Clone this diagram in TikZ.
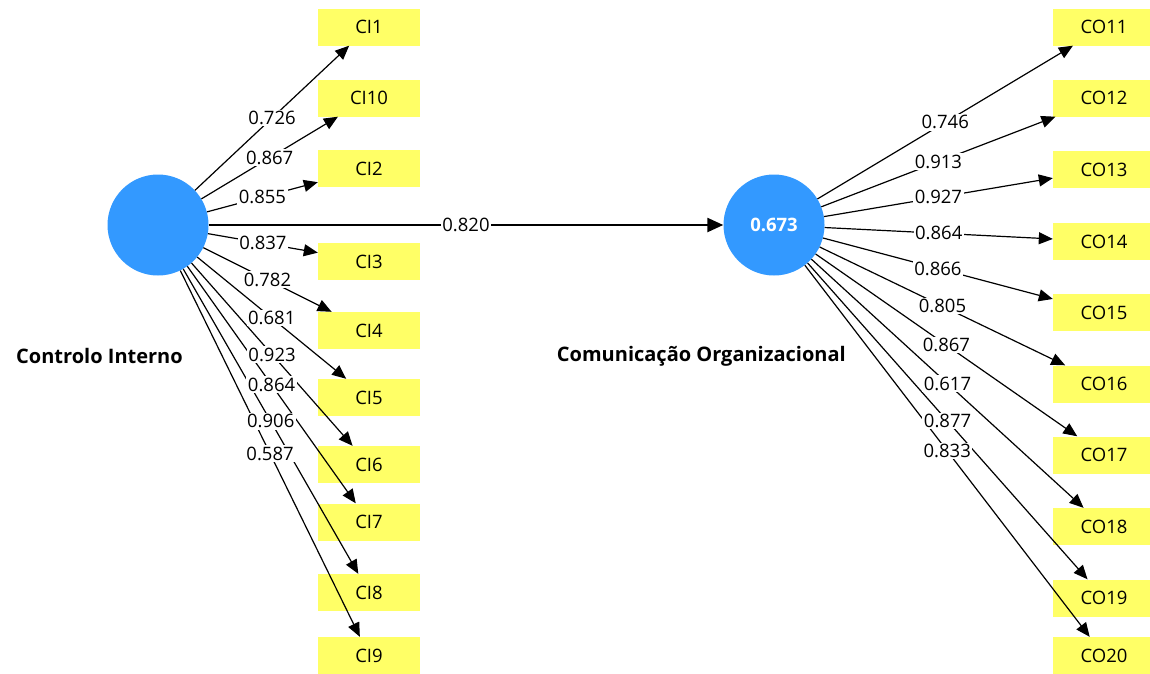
\documentclass[tikz,border=0pt]{standalone}
\usepackage{fontspec}
\setmainfont{Open Sans}
\usetikzlibrary{arrows.meta}
\definecolor{lvblue}{RGB}{51,153,255}
\definecolor{mvyellow}{RGB}{255,255,102}
\begin{document}
\begin{tikzpicture}[x=1pt,y=-1pt,
  lv/.style={circle,fill=lvblue,inner sep=0pt,minimum size=101pt,font=\fontsize{18.5}{22}\selectfont\bfseries,text=white},
  mv/.style={rectangle,fill=mvyellow,inner sep=0pt,minimum width=102pt,minimum height=37pt,font=\fontsize{18.5}{22}\selectfont},
  load/.style={-{Triangle[length=14pt,width=12pt]},line width=1.2pt},
  path/.style={-{Triangle[length=16pt,width=14pt]},line width=2.4pt},
  lbl/.style={fill=white,inner sep=1.5pt,font=\fontsize{18.5}{22}\selectfont},
  lvname/.style={font=\fontsize{20}{24}\selectfont\bfseries,anchor=east,inner sep=0pt}]
\useasboundingbox (0,0) rectangle (1150,673);
\clip (0,0) rectangle (1150,673);
% latent variables
\node[lv] (ci) at (158,225) {};
\node[lv] (co) at (774,225) {0.673};
\node[lvname] (ciname) at (183,356) {Controlo Interno};
\node[lvname] (coname) at (846,356) {Comunicação Organizacional};
% indicators
\foreach \n/\t/\y in {ci1/CI1/27, ci10/CI10/98, ci2/CI2/168.5, ci3/CI3/261.5, ci4/CI4/330.5,
  ci5/CI5/397.5, ci6/CI6/464.5, ci7/CI7/522, ci8/CI8/592.5, ci9/CI9/655.5}
  \node[mv] (\n) at (369,\y) {\t};
\foreach \n/\t/\y in {co11/CO11/27, co12/CO12/98, co13/CO13/169.5, co14/CO14/241.5, co15/CO15/312.5,
  co16/CO16/384, co17/CO17/455, co18/CO18/526.5, co19/CO19/598, co20/CO20/655.5}
  \node[mv] (\n) at (1104,\y) {\t};
% connectors
\foreach \n in {ci1,ci10,ci2,ci3,ci4,ci5,ci6,ci7,ci8,ci9}
  \draw[load] (ci) -- (\n);
\foreach \n in {co11,co12,co13,co14,co15,co16,co17,co18,co19,co20}
  \draw[load] (co) -- (\n);
\draw[path] (ci) -- (co);
% labels
\foreach \n/\v in {ci1/0.726,ci10/0.867,ci2/0.855,ci3/0.837,ci4/0.782,ci5/0.681,ci6/0.923,ci7/0.864,ci8/0.906,ci9/0.587}
  \path (ci) -- node[lbl] {\v} (\n);
\foreach \n/\v in {co11/0.746,co12/0.913,co13/0.927,co14/0.864,co15/0.866,co16/0.805,co17/0.867,co18/0.617,co19/0.877,co20/0.833}
  \path (co) -- node[lbl] {\v} (\n);
\path (ci) -- node[lbl] {0.820} (co);
\end{tikzpicture}
\end{document}
